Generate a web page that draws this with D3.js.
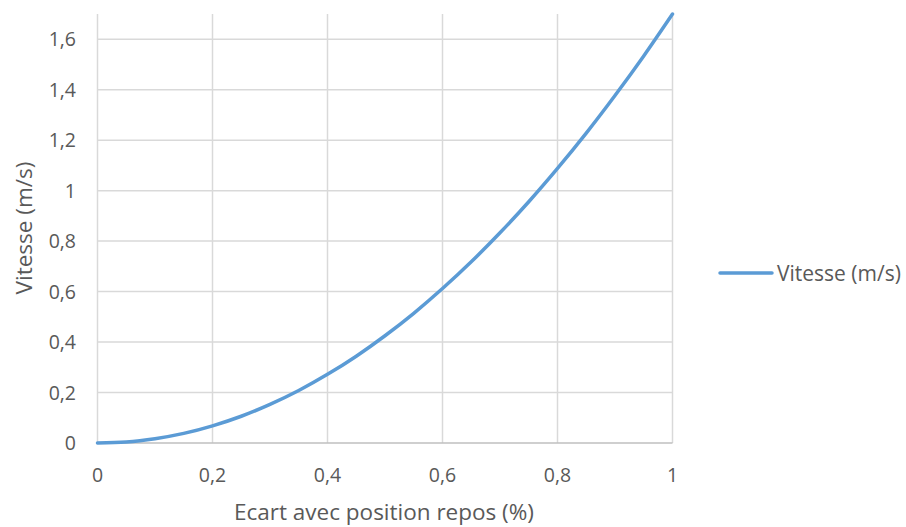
<!DOCTYPE html>
<html><head><meta charset="utf-8">
<script src="https://cdn.jsdelivr.net/npm/d3@7"></script>
<style>body{margin:0;background:#fff}svg{display:block}</style>
</head><body>
<svg id="c" width="906" height="527"></svg>
<script>
const xValues = [0,0.05,0.1,0.15,0.2,0.25,0.3,0.35,0.4,0.45,0.5,0.55,0.6,0.65,0.7,0.75,0.8,0.85,0.9,0.95,1];
const vitesse = [0,0.004,0.017,0.038,0.068,0.106,0.153,0.208,0.272,0.344,0.425,0.514,0.612,0.718,0.833,0.956,1.088,1.228,1.377,1.534,1.7];
const xTicks = [0,0.2,0.4,0.6,0.8,1];
const yTicks = [0,0.2,0.4,0.6,0.8,1,1.2,1.4,1.6];
const seriesName = "Vitesse (m/s)";
const xTitle = "Ecart avec position repos (%)";
const yTitle = "Vitesse (m/s)";

const svg = d3.select("#c");
const L=97.5, R=672.5, T=14, B=443;
const x = d3.scaleLinear().domain([0,1]).range([L,R]);
const y = d3.scaleLinear().domain([0,1.7]).range([B,T]);
const fmt = d => String(d).replace(".", ",");
const font = "'Open Sans', sans-serif";
const txt = "#595959";

// grid
svg.append("g").selectAll("line").data(xTicks).join("line")
  .attr("x1", d=>x(d)).attr("x2", d=>x(d)).attr("y1", T).attr("y2", B)
  .attr("stroke", "#d9d9d9").attr("stroke-width", 1.5);
svg.append("g").selectAll("line").data(yTicks.filter(d=>d>0)).join("line")
  .attr("x1", L).attr("x2", R).attr("y1", d=>y(d)).attr("y2", d=>y(d))
  .attr("stroke", "#d9d9d9").attr("stroke-width", 1.5);
// x axis line
svg.append("line").attr("x1", L).attr("x2", R).attr("y1", B).attr("y2", B)
  .attr("stroke", "#bfbfbf").attr("stroke-width", 1.5);

// tick labels
svg.append("g").selectAll("text").data(yTicks).join("text")
  .attr("x", 76).attr("y", d=>y(d)).attr("dy", "0.36em")
  .attr("text-anchor", "end").attr("font-family", font).attr("font-size", 19.5)
  .attr("fill", txt).text(fmt);
svg.append("g").selectAll("text").data(xTicks).join("text")
  .attr("x", d=>x(d)).attr("y", 482)
  .attr("text-anchor", "middle").attr("font-family", font).attr("font-size", 19.5)
  .attr("fill", txt).text(fmt);

// titles
svg.append("text").attr("x", 384).attr("y", 520).attr("text-anchor", "middle")
  .attr("font-family", font).attr("font-size", 22.5).attr("fill", txt).text(xTitle);
svg.append("text").attr("transform", "translate(32,228) rotate(-90)").attr("text-anchor", "middle")
  .attr("font-family", font).attr("font-size", 22.5).attr("fill", txt).text(yTitle);

// line
const data = xValues.map((d,i)=>[d, vitesse[i]]);
svg.append("path").datum(data)
  .attr("d", d3.line().x(d=>x(d[0])).y(d=>y(d[1])).curve(d3.curveMonotoneX))
  .attr("fill", "none").attr("stroke", "#5b9bd5").attr("stroke-width", 3.5)
  .attr("stroke-linecap", "round");

// legend
svg.append("line").attr("x1", 720).attr("x2", 772).attr("y1", 273).attr("y2", 273)
  .attr("stroke", "#5b9bd5").attr("stroke-width", 3.5).attr("stroke-linecap", "round");
svg.append("text").attr("x", 777).attr("y", 273).attr("dy", "0.36em")
  .attr("font-family", font).attr("font-size", 21).attr("fill", txt).text(seriesName);
</script>
</body></html>
